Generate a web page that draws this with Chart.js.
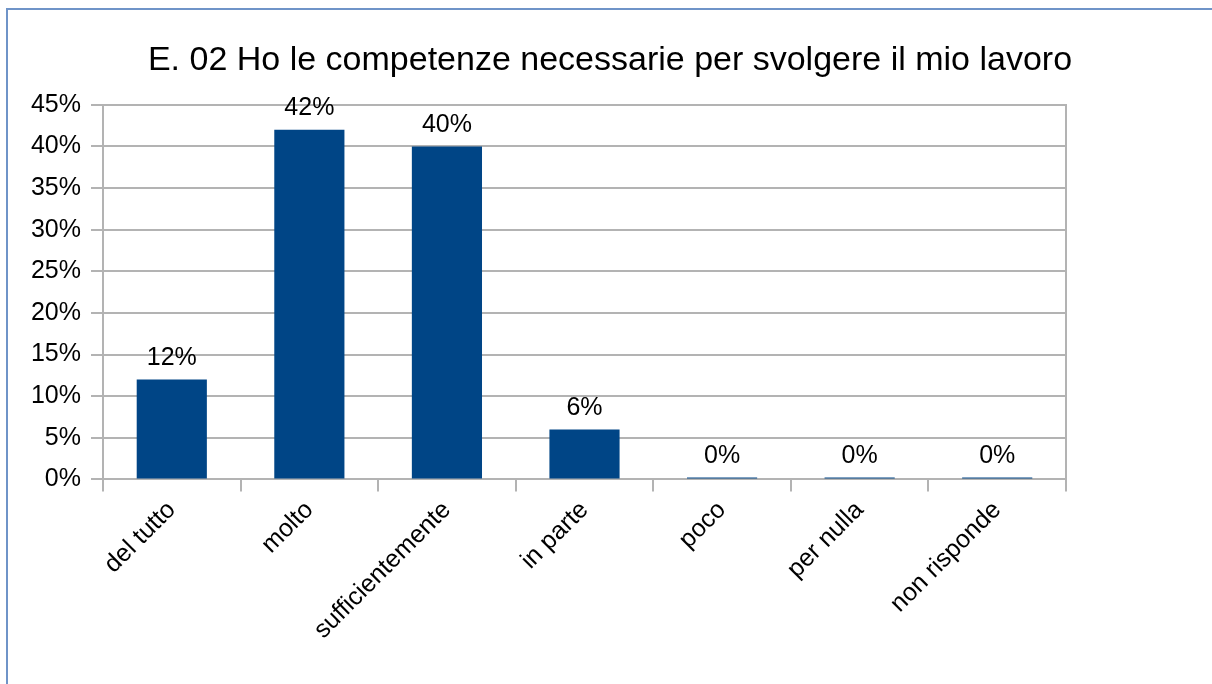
<!DOCTYPE html>
<html>
<head>
<meta charset="utf-8">
<script src="https://cdn.jsdelivr.net/npm/chart.js@4/dist/chart.umd.min.js"></script>
<style>
  html, body { margin: 0; padding: 0; background: #fff; }
  #wrap { position: relative; width: 1212px; height: 684px; }
  #frame { position: absolute; left: 6px; top: 8px; right: -10px; bottom: -10px; border-top: 2px solid #6f94c8; border-left: 2px solid #6f94c8; pointer-events: none; }
  canvas { position: absolute; left: 0; top: 0; }
</style>
</head>
<body>
<div id="wrap">
  <canvas id="c" width="1212" height="684"></canvas>
  <div id="frame"></div>
</div>
<script>
const titleText = 'E. 02 Ho le competenze necessarie per svolgere il mio lavoro';
const categories = ['del tutto', 'molto', 'sufficientemente', 'in parte', 'poco', 'per nulla', 'non risponde'];
const values = [12, 42, 40, 6, 0, 0, 0];
const yTicks = [0, 5, 10, 15, 20, 25, 30, 35, 40, 45];

const FONT = "'Liberation Sans', Arial, sans-serif";

const valueLabels = {
  id: 'valueLabels',
  afterDatasetsDraw(chart) {
    const ctx = chart.ctx;
    const meta = chart.getDatasetMeta(0);
    ctx.save();
    ctx.font = '25px ' + FONT;
    ctx.fillStyle = '#000';
    ctx.textAlign = 'center';
    ctx.textBaseline = 'bottom';
    meta.data.forEach((bar, i) => {
      const top = Math.min(bar.y, bar.base);
      ctx.fillText(values[i] + '%', bar.x, top - 9);
    });
    ctx.restore();
  }
};

new Chart(document.getElementById('c'), {
  type: 'bar',
  data: {
    labels: categories,
    datasets: [{
      data: values,
      backgroundColor: '#004586',
      borderWidth: 0,
      categoryPercentage: 1,
      barPercentage: 0.51,
      minBarLength: 2
    }]
  },
  options: {
    responsive: false,
    animation: false,
    devicePixelRatio: 1,
    layout: { padding: { left: 23, right: 15, top: 0, bottom: 35 } },
    plugins: {
      legend: { display: false },
      tooltip: { enabled: false },
      title: {
        display: true,
        text: titleText,
        color: '#000',
        font: { family: FONT, size: 34, weight: 'normal' },
        padding: { top: 40, bottom: 24 }
      }
    },
    scales: {
      x: {
        offset: true,
        grid: { display: true, drawOnChartArea: false, drawTicks: true, tickLength: 12, offset: true, color: '#b3b3b3', lineWidth: 2 },
        border: { display: true, color: '#b3b3b3', width: 2 },
        ticks: {
          color: '#000',
          font: { family: FONT, size: 25 },
          maxRotation: 45,
          minRotation: 45,
          padding: 4,
          autoSkip: false
        }
      },
      y: {
        min: 0,
        max: 45,
        afterBuildTicks(scale) { scale.ticks = yTicks.map(v => ({ value: v })); },
        afterFit(scale) { scale.width = 80; },
        grid: { color: '#b3b3b3', lineWidth: 2, tickLength: 12 },
        border: { display: true, color: '#b3b3b3', width: 2 },
        ticks: {
          color: '#000',
          font: { family: FONT, size: 25 },
          padding: 10,
          callback: v => v + '%'
        }
      },
      y2: {
        position: 'right',
        min: 0,
        max: 45,
        afterFit(scale) { scale.width = 1212 - 15 - 1066; },
        grid: { drawOnChartArea: false, drawTicks: false },
        border: { display: true, color: '#b3b3b3', width: 2 },
        ticks: { display: false }
      }
    }
  },
  plugins: [valueLabels]
});
</script>
</body>
</html>
